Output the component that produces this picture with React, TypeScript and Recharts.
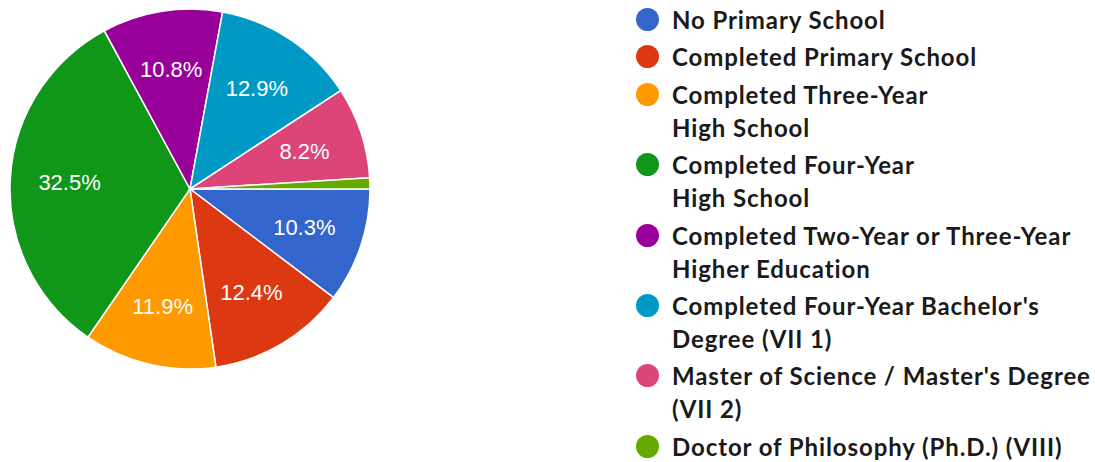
import { PieChart, Pie, Cell, Legend } from "recharts";

const categories = [
  "No Primary School",
  "Completed Primary School",
  "Completed Three-Year\nHigh School",
  "Completed Four-Year\nHigh School",
  "Completed Two-Year or Three-Year\nHigher Education",
  "Completed Four-Year Bachelor's\nDegree (VII 1)",
  "Master of Science / Master's Degree\n(VII 2)",
  "Doctor of Philosophy (Ph.D.) (VIII)",
];

const shares = [10.3, 12.4, 11.9, 32.5, 10.8, 12.9, 8.2, 1.0];

const colors = [
  "#3366cc",
  "#dc3912",
  "#ff9900",
  "#109618",
  "#990099",
  "#0099c6",
  "#dd4477",
  "#66aa00",
];

const data = categories.map((name, i) => ({ name, value: shares[i] }));

const RADIAN = Math.PI / 180;

function SliceLabel(props: any) {
  const { cx, cy, midAngle, outerRadius, value } = props;
  if (value < 5) return null;
  const r = outerRadius * 0.67;
  const x = cx + r * Math.cos(-midAngle * RADIAN);
  const y = cy + r * Math.sin(-midAngle * RADIAN);
  return (
    <text
      x={x}
      y={y}
      fill="#ffffff"
      fontSize={22}
      fontFamily="'Liberation Sans', Arial, sans-serif"
      textAnchor="middle"
      dominantBaseline="central"
    >
      {value.toFixed(1)}%
    </text>
  );
}

function LegendList() {
  return (
    <div
      style={{
        fontFamily: "Lato, sans-serif",
        fontWeight: 700,
        fontSize: 24,
        letterSpacing: 0.9,
        color: "#1a1a1a",
      }}
    >
      {data.map((d, i) => (
        <div key={d.name} style={{ display: "flex", alignItems: "flex-start", marginBottom: 4.4 }}>
          <span
            style={{
              width: 23,
              height: 23,
              borderRadius: "50%",
              background: colors[i],
              marginTop: 5,
              marginRight: 13,
              flexShrink: 0,
            }}
          />
          <span style={{ whiteSpace: "pre-line", lineHeight: "33px" }}>{d.name}</span>
        </div>
      ))}
    </div>
  );
}

export default function App() {
  return (
    <div style={{ position: "absolute", left: 0, top: 0, background: "#fff" }}>
      <PieChart width={1095} height={462} margin={{ top: 0, right: 0, bottom: 0, left: 0 }}>
        <Pie
          data={data}
          dataKey="value"
          nameKey="name"
          cx={190}
          cy={189}
          outerRadius={180}
          startAngle={0}
          endAngle={-360}
          stroke="#ffffff"
          strokeWidth={1.5}
          label={SliceLabel}
          labelLine={false}
          isAnimationActive={false}
        >
          {data.map((d, i) => (
            <Cell key={d.name} fill={colors[i]} />
          ))}
        </Pie>
        <Legend
          content={() => <LegendList />}
          wrapperStyle={{ position: "absolute", left: 636, top: 3, width: 455 }}
        />
      </PieChart>
    </div>
  );
}
